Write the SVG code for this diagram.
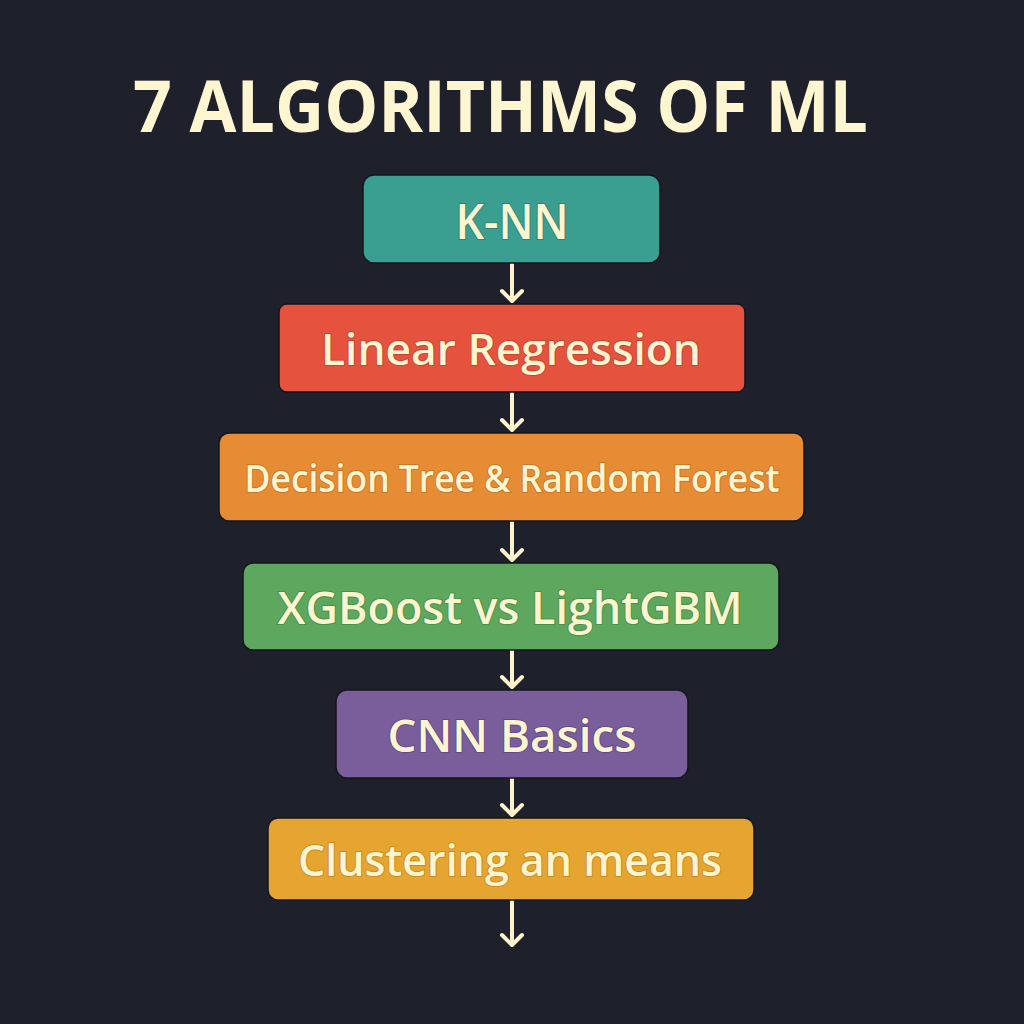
<svg xmlns="http://www.w3.org/2000/svg" width="1024" height="1024" viewBox="0 0 1024 1024">
<style>
.bg{fill:#1e202b}
.title{font-family:"Open Sans","Noto Sans","DejaVu Sans",sans-serif;font-weight:700;fill:#fdf6d0;font-size:72px}
.box{stroke:#15161d;stroke-width:1.5}
.lbl{font-family:"Open Sans","Noto Sans","DejaVu Sans",sans-serif;font-weight:600;fill:#fdf5cf;text-anchor:middle;dominant-baseline:central;paint-order:stroke;stroke-width:2}
.conn{stroke:#fbf2cc;stroke-width:4;fill:none;stroke-linecap:round;stroke-linejoin:round}
</style>
<rect class="bg" x="0" y="0" width="1024" height="1024"/>
<text class="title" x="133" y="132" textLength="735" lengthAdjust="spacingAndGlyphs">7 ALGORITHMS OF ML</text>
<g id="connectors">
<path class="conn" d="M512 264V301M502 291L512 301L522 291"/>
<path class="conn" d="M512 393V430M502 420L512 430L522 420"/>
<path class="conn" d="M512 522V560M502 550L512 560L522 550"/>
<path class="conn" d="M512 651V687M502 677L512 687L522 677"/>
<path class="conn" d="M512 779V815M502 805L512 815L522 805"/>
<path class="conn" d="M512 901V945M502 935L512 945L522 935"/>
</g>
<g id="knn">
<rect class="box" x="363" y="175" width="297" height="88" rx="11" fill="#3a9e90"/>
<text class="lbl" x="512" y="220" font-size="49" stroke="#2f8477" textLength="113" lengthAdjust="spacingAndGlyphs">K-NN</text>
</g>
<g id="linreg">
<rect class="box" x="279" y="304" width="466" height="88" rx="8" fill="#e5533f"/>
<text class="lbl" x="511" y="348" font-size="44" stroke="#c94431" textLength="380" lengthAdjust="spacingAndGlyphs">Linear Regression</text>
</g>
<g id="dtree">
<rect class="box" x="219" y="433" width="585" height="88" rx="10" fill="#e58c35"/>
<text class="lbl" x="512" y="477" font-size="38" stroke="#cf7626" textLength="535" lengthAdjust="spacingAndGlyphs">Decision Tree &amp; Random Forest</text>
</g>
<g id="xgb">
<rect class="box" x="243" y="563" width="536" height="87" rx="10" fill="#5ea75e"/>
<text class="lbl" x="510" y="606" font-size="46" stroke="#4a9049" textLength="465" lengthAdjust="spacingAndGlyphs">XGBoost vs LightGBM</text>
</g>
<g id="cnn">
<rect class="box" x="336" y="690" width="352" height="88" rx="11" fill="#7a5e9c"/>
<text class="lbl" x="512" y="734" font-size="46" stroke="#634a85" textLength="249" lengthAdjust="spacingAndGlyphs">CNN Basics</text>
</g>
<g id="cluster">
<rect class="box" x="268" y="818" width="486" height="82" rx="10" fill="#e5a530"/>
<text class="lbl" x="510" y="859" font-size="44" stroke="#cc8c20" textLength="424" lengthAdjust="spacingAndGlyphs">Clustering an means</text>
</g>
</svg>
